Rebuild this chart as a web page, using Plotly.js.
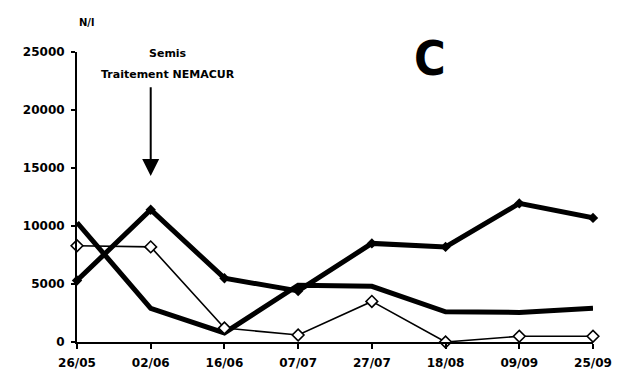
<!DOCTYPE html>
<html>
<head>
<meta charset="utf-8">
<script src="https://cdn.plot.ly/plotly-3.0.1.min.js"></script>
<style>
  html, body { margin: 0; padding: 0; background: #fff; }
  #chart { width: 623px; height: 378px; }
</style>
</head>
<body>
<div id="chart"></div>
<script>
// Sampling dates
const dates = ['26/05', '02/06', '16/06', '07/07', '27/07', '18/08', '09/09', '25/09'];

// Nematode counts (N/l) per series
const markedThick = [5300, 11400, 5500, 4400, 8500, 8200, 11950, 10700];
const plainThick  = [10300, 2900, 780, 4900, 4800, 2600, 2550, 2900];
const openThin    = [8300, 8200, 1200, 600, 3500, 0, 500, 500];

const yTicks = [0, 5000, 10000, 15000, 20000, 25000];

const boldFont = { family: 'DejaVu Sans', size: 12, color: '#000', weight: 'bold' };

const traces = [
  {
    x: dates, y: plainThick, type: 'scatter', mode: 'lines',
    line: { color: '#000', width: 5 },
    cliponaxis: false, hoverinfo: 'skip'
  },
  {
    x: dates, y: markedThick, type: 'scatter', mode: 'lines+markers',
    line: { color: '#000', width: 5 },
    marker: { symbol: 'diamond', size: 8, color: '#000' },
    cliponaxis: false, hoverinfo: 'skip'
  },
  {
    x: dates, y: openThin, type: 'scatter', mode: 'lines+markers',
    line: { color: '#000', width: 1.6 },
    marker: { symbol: 'diamond', size: 9, color: '#fff', line: { color: '#000', width: 1.6 } },
    cliponaxis: false, hoverinfo: 'skip'
  }
];

const layout = {
  width: 623, height: 378,
  margin: { l: 77, r: 30, t: 52, b: 36 },
  paper_bgcolor: '#fff', plot_bgcolor: '#fff',
  showlegend: false,
  xaxis: {
    type: 'category', range: [0, 7],
    showgrid: false, zeroline: false,
    showline: true, linecolor: '#000', linewidth: 2,
    ticks: 'outside', ticklen: 5, tickwidth: 2, tickcolor: '#000',
    tickfont: boldFont, ticklabelstandoff: 4
  },
  yaxis: {
    range: [0, 25000], tickvals: yTicks, ticktext: yTicks.map(String),
    showgrid: false, zeroline: false,
    showline: true, linecolor: '#000', linewidth: 2,
    ticks: 'outside', ticklen: 4, tickwidth: 2, tickcolor: '#000',
    tickfont: boldFont, ticklabelstandoff: 4
  },
  annotations: [
    {
      xref: 'paper', yref: 'paper', x: 0.0, y: 1.103, xanchor: 'left', yanchor: 'middle',
      text: 'N/l', showarrow: false,
      font: { family: 'DejaVu Sans', size: 10, color: '#000', weight: 'bold' }
    },
    {
      xref: 'paper', yref: 'paper', x: 0.684, y: 0.979, xanchor: 'center', yanchor: 'middle',
      text: 'C', showarrow: false,
      font: { family: 'DejaVu Sans Condensed, DejaVu Sans', size: 48, color: '#000', weight: 'bold' }
    },
    {
      xref: 'x', yref: 'y', x: 1, y: 24900, xshift: 17, xanchor: 'center', yanchor: 'middle',
      text: 'Semis', showarrow: false,
      font: { family: 'DejaVu Sans', size: 11, color: '#000', weight: 'bold' }
    },
    {
      xref: 'x', yref: 'y', x: 1, y: 23100, xshift: 17, xanchor: 'center', yanchor: 'middle',
      text: 'Traitement NEMACUR', showarrow: false,
      font: { family: 'DejaVu Sans', size: 11, color: '#000', weight: 'bold' }
    },
    {
      xref: 'x', yref: 'y', x: 1, y: 14300,
      axref: 'x', ayref: 'y', ax: 1, ay: 22100,
      text: '', showarrow: true,
      arrowhead: 2, arrowsize: 1.7, arrowwidth: 2, arrowcolor: '#000'
    }
  ]
};

Plotly.newPlot('chart', traces, layout, { staticPlot: true, displayModeBar: false });
</script>
</body>
</html>
